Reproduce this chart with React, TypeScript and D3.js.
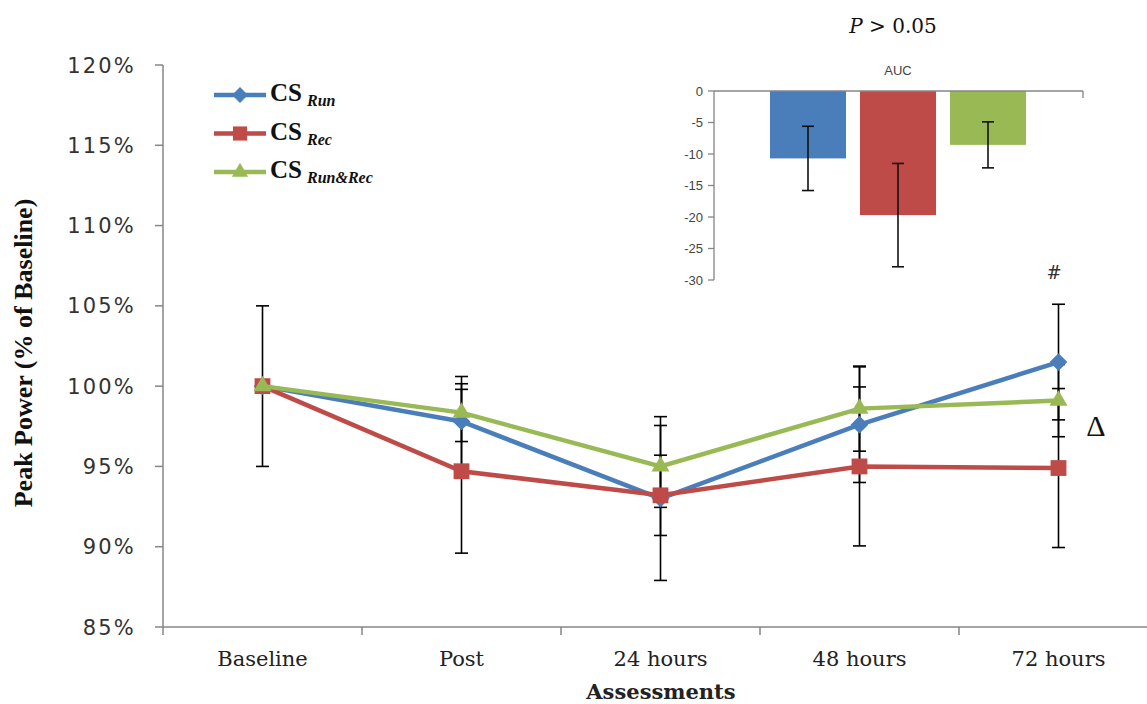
import React from "react";
import * as d3 from "d3";

const categories = ["Baseline", "Post", "24 hours", "48 hours", "72 hours"];
const csRun = [100, 97.8, 93.0, 97.6, 101.5];
const csRunSD = [5.0, 2.8, 5.1, 3.6, 3.6];
const csRec = [100, 94.7, 93.2, 95.0, 94.9];
const csRecSD = [0, 5.1, 2.5, 4.95, 4.95];
const csRunRec = [100, 98.35, 95.0, 98.6, 99.1];
const csRunRecSD = [0, 1.8, 2.55, 2.65, 2.25];
const yTicks = [85, 90, 95, 100, 105, 110, 115, 120];

const aucGroups = ["Run", "Rec", "Run&Rec"];
const aucValues = [-10.7, -19.7, -8.55];
const aucSD = [5.1, 8.2, 3.65];
const aucTicks = [0, -5, -10, -15, -20, -25, -30];

const BLUE = "#4a7ebb";
const RED = "#be4b48";
const GREEN = "#98b954";
const AXIS = "#868686";

type Series = { name: string; values: number[]; sd: number[]; color: string; shape: d3.SymbolType; size: number };

const series: Series[] = [
  { name: "Run", values: csRun, sd: csRunSD, color: BLUE, shape: d3.symbolDiamond2, size: 200 },
  { name: "Rec", values: csRec, sd: csRecSD, color: RED, shape: d3.symbolSquare, size: 250 },
  { name: "Run&Rec", values: csRunRec, sd: csRunRecSD, color: GREEN, shape: d3.symbolTriangle, size: 140 },
];

export default function App() {
  const W = 1147, H = 704;
  const x = d3.scaleBand<string>().domain(categories).range([163, 1158]).padding(0);
  const cx = (c: string) => (x(c) as number) + x.bandwidth() / 2;
  const y = d3.scaleLinear().domain([85, 120]).range([627, 65]);
  const line = d3.line<number>().x((_, i) => cx(categories[i])).y((v) => y(v));

  const yi = d3.scaleLinear().domain([0, -30]).range([91, 280]);
  const xi = d3.scaleBand<string>().domain(aucGroups).range([763, 1033]).paddingInner(0.155).paddingOuter(0.0775);
  const inColors = [BLUE, RED, GREEN];

  const serif = "'DejaVu Serif', serif";
  const tnr = "'Liberation Serif', 'Times New Roman', serif";

  return (
    <svg width={W} height={H} style={{ position: "absolute", left: 0, top: 0, background: "#fff" }}>
      {/* main y axis */}
      <line x1={163} x2={163} y1={y(120)} y2={y(85)} stroke={AXIS} strokeWidth={1.5} />
      {yTicks.map((t) => (
        <g key={t}>
          <line x1={155} x2={163} y1={y(t)} y2={y(t)} stroke={AXIS} strokeWidth={1.5} />
          <text x={136} y={y(t)} dy="0.36em" textAnchor="end" fontFamily="'DejaVu Sans', Verdana, sans-serif" fontSize={21} letterSpacing={2.2} fill="#333">
            {d3.format(".0%")(t / 100)}
          </text>
        </g>
      ))}
      {/* main x axis */}
      <line x1={163} x2={1158} y1={627} y2={627} stroke={AXIS} strokeWidth={1.5} />
      {categories.map((c) => (
        <g key={c}>
          <line x1={x(c) as number} x2={x(c) as number} y1={627} y2={635} stroke={AXIS} strokeWidth={1.5} />
          <text x={cx(c)} y={666} textAnchor="middle" fontFamily={serif} fontSize={21} fill="#222">{c}</text>
        </g>
      ))}
      <text x={661} y={699} textAnchor="middle" fontFamily={serif} fontWeight="bold" fontSize={21} fill="#222">Assessments</text>
      <text transform="translate(32,353) rotate(-90)" textAnchor="middle" fontFamily={tnr} fontWeight="bold" fontSize={26} fill="#111">
        Peak Power (% of Baseline)
      </text>

      {/* error bars */}
      {series.map((s) =>
        s.values.map((v, i) =>
          s.sd[i] > 0 ? (
            <g key={s.name + i} stroke="#000" strokeWidth={1.6}>
              <line x1={cx(categories[i])} x2={cx(categories[i])} y1={y(v + s.sd[i])} y2={y(v - s.sd[i])} />
              <line x1={cx(categories[i]) - 6.5} x2={cx(categories[i]) + 6.5} y1={y(v + s.sd[i])} y2={y(v + s.sd[i])} />
              <line x1={cx(categories[i]) - 6.5} x2={cx(categories[i]) + 6.5} y1={y(v - s.sd[i])} y2={y(v - s.sd[i])} />
            </g>
          ) : null
        )
      )}
      {/* lines + markers */}
      {series.map((s) => (
        <g key={s.name}>
          <path d={line(s.values) as string} fill="none" stroke={s.color} strokeWidth={4.5} />
          {s.values.map((v, i) => (
            <path key={i} transform={`translate(${cx(categories[i])},${y(v)})`} d={d3.symbol(s.shape, s.size)() as string} fill={s.color} />
          ))}
        </g>
      ))}

      {/* legend */}
      {series.map((s, i) => {
        const ly = 95 + i * 38.5;
        return (
          <g key={s.name}>
            <line x1={214} x2={266} y1={ly} y2={ly} stroke={s.color} strokeWidth={4.5} />
            <path transform={`translate(240,${ly})`} d={d3.symbol(s.shape, s.size * 0.8)() as string} fill={s.color} />
            <text x={270} y={ly + 6} fontFamily={tnr} fontWeight="bold" fontSize={25} fill="#111">
              CS
              <tspan dx={5} dy={5} fontStyle="italic" fontSize={16}>{s.name}</tspan>
            </text>
          </g>
        );
      })}

      {/* P value */}
      <text x={893} y={33} textAnchor="middle" fontFamily={serif} fontSize={20} fill="#111">
        <tspan fontStyle="italic">P</tspan> &gt; 0.05
      </text>

      {/* inset */}
      <text x={898} y={75} textAnchor="middle" fontFamily="'Liberation Sans', Arial, sans-serif" fontSize={13} fill="#444">AUC</text>
      {aucGroups.map((g, i) => (
        <rect key={g} x={xi(g) as number} width={xi.bandwidth()} y={yi(0)} height={yi(aucValues[i]) - yi(0)} fill={inColors[i]} />
      ))}
      {aucGroups.map((g, i) => {
        const c = (xi(g) as number) + xi.bandwidth() / 2;
        const t = yi(aucValues[i] + aucSD[i]);
        const b = yi(aucValues[i] - aucSD[i]);
        return (
          <g key={g} stroke="#111" strokeWidth={1.6}>
            <line x1={c} x2={c} y1={t} y2={b} />
            <line x1={c - 6} x2={c + 6} y1={t} y2={t} />
            <line x1={c - 6} x2={c + 6} y1={b} y2={b} />
          </g>
        );
      })}
      <line x1={714} x2={714} y1={yi(0)} y2={yi(-30)} stroke={AXIS} strokeWidth={1.3} />
      <line x1={714} x2={1083} y1={yi(0)} y2={yi(0)} stroke={AXIS} strokeWidth={1.3} />
      <line x1={1083} x2={1083} y1={yi(0)} y2={yi(0) + 7} stroke={AXIS} strokeWidth={1.3} />
      {aucTicks.map((t) => (
        <g key={t}>
          <line x1={708} x2={714} y1={yi(t)} y2={yi(t)} stroke={AXIS} strokeWidth={1.3} />
          <text x={703} y={yi(t)} dy="0.36em" textAnchor="end" fontFamily="'Liberation Sans', Arial, sans-serif" fontSize={13} fill="#444">
            {t === 0 ? "0" : `-${Math.abs(t)}`}
          </text>
        </g>
      ))}

      {/* annotations */}
      <text x={1054} y={279} textAnchor="middle" fontFamily={serif} fontSize={18} fill="#333">#</text>
      <text x={1096} y={436} textAnchor="middle" fontFamily={tnr} fontSize={30} fill="#111">Δ</text>
    </svg>
  );
}
